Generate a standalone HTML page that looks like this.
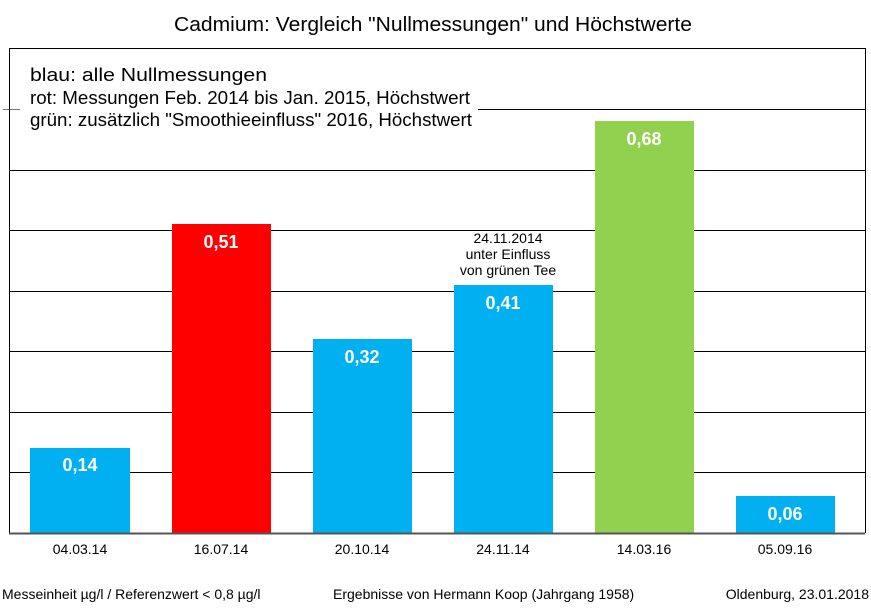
<!DOCTYPE html>
<html><head><meta charset="utf-8"><style>
body{margin:0;background:#fff;}
svg text{font-family:"Liberation Sans",Arial,sans-serif;}
</style></head><body>
<svg width="871" height="605" viewBox="0 0 871 605" xmlns="http://www.w3.org/2000/svg">
<rect width="871" height="605" fill="#fff"/>
<text x="174" y="31" font-size="20" textLength="518" lengthAdjust="spacingAndGlyphs" fill="#000">Cadmium: Vergleich "Nullmessungen" und Höchstwerte</text>
<g stroke="#000" stroke-width="1">
<line x1="9" y1="48.5" x2="865" y2="48.5"/>
<line x1="478" y1="109.5" x2="865" y2="109.5"/>
<line x1="9" y1="170.5" x2="865" y2="170.5"/>
<line x1="9" y1="230.5" x2="865" y2="230.5"/>
<line x1="9" y1="291.5" x2="865" y2="291.5"/>
<line x1="9" y1="351.5" x2="865" y2="351.5"/>
<line x1="9" y1="412.5" x2="865" y2="412.5"/>
<line x1="9" y1="472.5" x2="865" y2="472.5"/>
<line x1="865.5" y1="48" x2="865.5" y2="533"/>
</g>
<line x1="3" y1="109.5" x2="20" y2="109.5" stroke="#777"/>
<rect x="30" y="448" width="100" height="85" fill="#00B0F0"/>
<rect x="172" y="224" width="99" height="309" fill="#FF0000"/>
<rect x="313" y="339" width="99" height="194" fill="#00B0F0"/>
<rect x="454" y="285" width="99" height="248" fill="#00B0F0"/>
<rect x="595" y="121" width="99" height="412" fill="#92D050"/>
<rect x="736" y="496" width="99" height="37" fill="#00B0F0"/>
<line x1="9.5" y1="48" x2="9.5" y2="534" stroke="#000"/>
<line x1="9" y1="533.5" x2="865" y2="533.5" stroke="#555" stroke-width="2"/>
<g font-size="18" font-weight="bold" fill="#fff" text-anchor="middle">
<text x="80" y="471">0,14</text>
<text x="221" y="248">0,51</text>
<text x="362" y="363">0,32</text>
<text x="503" y="309">0,41</text>
<text x="644" y="145">0,68</text>
<text x="785" y="520">0,06</text>
</g>
<g font-size="14" fill="#000" text-anchor="middle">
<text x="80" y="554">04.03.14</text>
<text x="221" y="554">16.07.14</text>
<text x="362" y="554">20.10.14</text>
<text x="503" y="554">24.11.14</text>
<text x="644" y="554">14.03.16</text>
<text x="785" y="554">05.09.16</text>
<text x="508" y="243">24.11.2014</text>
<text x="508" y="259">unter Einfluss</text>
<text x="508" y="275">von grünen Tee</text>
</g>
<g font-size="18.5" fill="#000">
<text x="30" y="81" textLength="237" lengthAdjust="spacingAndGlyphs">blau: alle Nullmessungen</text>
<text x="30" y="104" textLength="440" lengthAdjust="spacingAndGlyphs">rot: Messungen Feb. 2014 bis Jan. 2015, Höchstwert</text>
<text x="30" y="126" textLength="442" lengthAdjust="spacingAndGlyphs">grün: zusätzlich "Smoothieeinfluss" 2016, Höchstwert</text>
</g>
<g font-size="14" fill="#000">
<text x="2" y="599">Messeinheit µg/l / Referenzwert &lt; 0,8 µg/l</text>
<text x="333" y="599">Ergebnisse von Hermann Koop (Jahrgang 1958)</text>
<text x="869" y="599" text-anchor="end">Oldenburg, 23.01.2018</text>
</g>
</svg>
</body></html>
